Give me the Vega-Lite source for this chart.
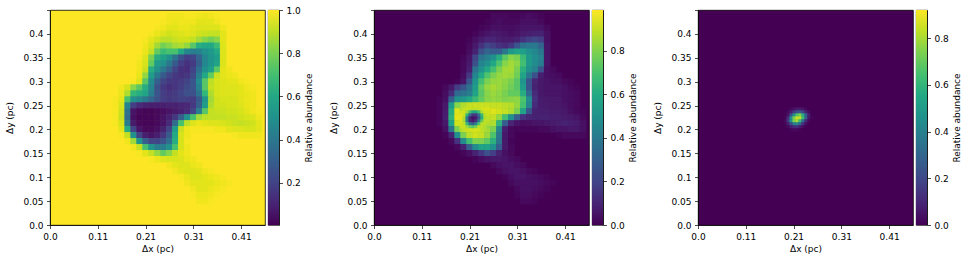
{"$schema":"https://vega.github.io/schema/vega-lite/v6.json","padding":{"left":5,"top":5,"right":0,"bottom":0},"background":"white","bounds":"flush","spacing":324,
"config":{"font":"DejaVu Sans","view":{"stroke":"black","strokeWidth":0.8},"axis":{"labelFont":"DejaVu Sans","titleFont":"DejaVu Sans","labelFontSize":9,"titleFontSize":9,"titleFontWeight":"normal","labelColor":"#000","titleColor":"#000","domainColor":"#000","tickColor":"#000","tickSize":3.5,"tickWidth":0.7,"domainWidth":0.7,"grid":false,"labelPadding":3.5}},
"datasets":{"coarse":[
{"x":0.25,"y":0.4375,"a":0.98,"b":0.02},{"x":0.2625,"y":0.4375,"a":0.98,"b":0.02},{"x":0.275,"y":0.4375,"a":0.98,"b":0.02},{"x":0.2875,"y":0.4375,"a":0.99,"b":0.01},{"x":0.3,"y":0.4375,"a":0.99,"b":0.01},{"x":0.3125,"y":0.4375,"a":0.98,"b":0.02},{"x":0.325,"y":0.4375,"a":0.97,"b":0.03},{"x":0.3375,"y":0.4375,"a":0.98,"b":0.02},{"x":0.35,"y":0.4375,"a":0.99,"b":0.01},
{"x":0.2375,"y":0.425,"a":0.99,"b":0.01},{"x":0.25,"y":0.425,"a":0.98,"b":0.02},{"x":0.2625,"y":0.425,"a":0.97,"b":0.03},{"x":0.275,"y":0.425,"a":0.98,"b":0.02},{"x":0.2875,"y":0.425,"a":0.98,"b":0.02},{"x":0.3,"y":0.425,"a":0.98,"b":0.02},{"x":0.3125,"y":0.425,"a":0.96,"b":0.04},{"x":0.325,"y":0.425,"a":0.96,"b":0.04},{"x":0.3375,"y":0.425,"a":0.96,"b":0.04},{"x":0.35,"y":0.425,"a":0.98,"b":0.02},
{"x":0.225,"y":0.4125,"a":0.99,"b":0.01},{"x":0.2375,"y":0.4125,"a":0.98,"b":0.02},{"x":0.25,"y":0.4125,"a":0.96,"b":0.04},{"x":0.2625,"y":0.4125,"a":0.96,"b":0.04},{"x":0.275,"y":0.4125,"a":0.97,"b":0.03},{"x":0.2875,"y":0.4125,"a":0.97,"b":0.03},{"x":0.3,"y":0.4125,"a":0.96,"b":0.04},{"x":0.3125,"y":0.4125,"a":0.95,"b":0.05},{"x":0.325,"y":0.4125,"a":0.95,"b":0.05},{"x":0.3375,"y":0.4125,"a":0.95,"b":0.05},{"x":0.35,"y":0.4125,"a":0.95,"b":0.05},{"x":0.3625,"y":0.4125,"a":0.98,"b":0.02},
{"x":0.2125,"y":0.4,"a":0.99,"b":0.01},{"x":0.225,"y":0.4,"a":0.97,"b":0.03},{"x":0.2375,"y":0.4,"a":0.95,"b":0.05},{"x":0.25,"y":0.4,"a":0.93,"b":0.07},{"x":0.2625,"y":0.4,"a":0.94,"b":0.06},{"x":0.275,"y":0.4,"a":0.95,"b":0.05},{"x":0.2875,"y":0.4,"a":0.96,"b":0.04},{"x":0.3,"y":0.4,"a":0.95,"b":0.05},{"x":0.3125,"y":0.4,"a":0.93,"b":0.07},{"x":0.325,"y":0.4,"a":0.92,"b":0.08},{"x":0.3375,"y":0.4,"a":0.91,"b":0.09},{"x":0.35,"y":0.4,"a":0.91,"b":0.09},{"x":0.3625,"y":0.4,"a":0.96,"b":0.04},
{"x":0.2,"y":0.3875,"a":0.99,"b":0.01},{"x":0.2125,"y":0.3875,"a":0.96,"b":0.04},{"x":0.225,"y":0.3875,"a":0.93,"b":0.07},{"x":0.2375,"y":0.3875,"a":0.9,"b":0.1},{"x":0.25,"y":0.3875,"a":0.9,"b":0.1},{"x":0.2625,"y":0.3875,"a":0.92,"b":0.08},{"x":0.275,"y":0.3875,"a":0.93,"b":0.07},{"x":0.2875,"y":0.3875,"a":0.93,"b":0.07},{"x":0.3,"y":0.3875,"a":0.91,"b":0.09},{"x":0.3125,"y":0.3875,"a":0.86,"b":0.14},{"x":0.325,"y":0.3875,"a":0.82,"b":0.18},{"x":0.3375,"y":0.3875,"a":0.79,"b":0.21},{"x":0.35,"y":0.3875,"a":0.82,"b":0.18},{"x":0.3625,"y":0.3875,"a":0.96,"b":0.04},
{"x":0.2,"y":0.375,"a":0.98,"b":0.02},{"x":0.2125,"y":0.375,"a":0.94,"b":0.06},{"x":0.225,"y":0.375,"a":0.86,"b":0.14},{"x":0.2375,"y":0.375,"a":0.79,"b":0.21},{"x":0.25,"y":0.375,"a":0.82,"b":0.18},{"x":0.2625,"y":0.375,"a":0.86,"b":0.14},{"x":0.275,"y":0.375,"a":0.88,"b":0.12},{"x":0.2875,"y":0.375,"a":0.84,"b":0.16},{"x":0.3,"y":0.375,"a":0.74,"b":0.26},{"x":0.3125,"y":0.375,"a":0.62,"b":0.38},{"x":0.325,"y":0.375,"a":0.6,"b":0.4},{"x":0.3375,"y":0.375,"a":0.6,"b":0.4},{"x":0.35,"y":0.375,"a":0.68,"b":0.32},{"x":0.3625,"y":0.375,"a":0.95,"b":0.05},
{"x":0.2,"y":0.3625,"a":0.97,"b":0.03},{"x":0.2125,"y":0.3625,"a":0.91,"b":0.09},{"x":0.225,"y":0.3625,"a":0.76,"b":0.24},{"x":0.2375,"y":0.3625,"a":0.68,"b":0.32},{"x":0.25,"y":0.3625,"a":0.71,"b":0.29},{"x":0.2625,"y":0.3625,"a":0.71,"b":0.29},{"x":0.275,"y":0.3625,"a":0.6,"b":0.4},{"x":0.2875,"y":0.3625,"a":0.46,"b":0.54},{"x":0.3,"y":0.3625,"a":0.42,"b":0.58},{"x":0.3125,"y":0.3625,"a":0.44,"b":0.56},{"x":0.325,"y":0.3625,"a":0.5,"b":0.5},{"x":0.3375,"y":0.3625,"a":0.54,"b":0.46},{"x":0.35,"y":0.3625,"a":0.6,"b":0.4},{"x":0.3625,"y":0.3625,"a":0.95,"b":0.05},
{"x":0.1875,"y":0.35,"a":0.99,"b":0.01},{"x":0.2,"y":0.35,"a":0.95,"b":0.05},{"x":0.2125,"y":0.35,"a":0.8,"b":0.2},{"x":0.225,"y":0.35,"a":0.62,"b":0.38},{"x":0.2375,"y":0.35,"a":0.57,"b":0.43},{"x":0.25,"y":0.35,"a":0.5,"b":0.5},{"x":0.2625,"y":0.35,"a":0.38,"b":0.62},{"x":0.275,"y":0.35,"a":0.25,"b":0.75},{"x":0.2875,"y":0.35,"a":0.18,"b":0.82},{"x":0.3,"y":0.35,"a":0.2,"b":0.8},{"x":0.3125,"y":0.35,"a":0.32,"b":0.68},{"x":0.325,"y":0.35,"a":0.46,"b":0.54},{"x":0.3375,"y":0.35,"a":0.52,"b":0.48},{"x":0.35,"y":0.35,"a":0.56,"b":0.44},{"x":0.3625,"y":0.35,"a":0.95,"b":0.05},
{"x":0.1875,"y":0.3375,"a":0.98,"b":0.02},{"x":0.2,"y":0.3375,"a":0.94,"b":0.06},{"x":0.2125,"y":0.3375,"a":0.76,"b":0.24},{"x":0.225,"y":0.3375,"a":0.55,"b":0.45},{"x":0.2375,"y":0.3375,"a":0.5,"b":0.5},{"x":0.25,"y":0.3375,"a":0.4,"b":0.6},{"x":0.2625,"y":0.3375,"a":0.28,"b":0.72},{"x":0.275,"y":0.3375,"a":0.18,"b":0.82},{"x":0.2875,"y":0.3375,"a":0.14,"b":0.86},{"x":0.3,"y":0.3375,"a":0.17,"b":0.83},{"x":0.3125,"y":0.3375,"a":0.3,"b":0.7},{"x":0.325,"y":0.3375,"a":0.46,"b":0.54},{"x":0.3375,"y":0.3375,"a":0.52,"b":0.48},{"x":0.35,"y":0.3375,"a":0.58,"b":0.42},{"x":0.3625,"y":0.3375,"a":0.95,"b":0.05},
{"x":0.1875,"y":0.325,"a":0.98,"b":0.02},{"x":0.2,"y":0.325,"a":0.92,"b":0.08},{"x":0.2125,"y":0.325,"a":0.62,"b":0.38},{"x":0.225,"y":0.325,"a":0.5,"b":0.5},{"x":0.2375,"y":0.325,"a":0.4,"b":0.6},{"x":0.25,"y":0.325,"a":0.3,"b":0.7},{"x":0.2625,"y":0.325,"a":0.2,"b":0.8},{"x":0.275,"y":0.325,"a":0.14,"b":0.86},{"x":0.2875,"y":0.325,"a":0.13,"b":0.87},{"x":0.3,"y":0.325,"a":0.2,"b":0.8},{"x":0.3125,"y":0.325,"a":0.36,"b":0.64},{"x":0.325,"y":0.325,"a":0.5,"b":0.5},{"x":0.3375,"y":0.325,"a":0.56,"b":0.44},{"x":0.35,"y":0.325,"a":0.74,"b":0.26},{"x":0.3625,"y":0.325,"a":0.96,"b":0.04},{"x":0.375,"y":0.325,"a":0.98,"b":0.02},
{"x":0.1875,"y":0.3125,"a":0.97,"b":0.03},{"x":0.2,"y":0.3125,"a":0.84,"b":0.16},{"x":0.2125,"y":0.3125,"a":0.55,"b":0.45},{"x":0.225,"y":0.3125,"a":0.4,"b":0.6},{"x":0.2375,"y":0.3125,"a":0.28,"b":0.72},{"x":0.25,"y":0.3125,"a":0.2,"b":0.8},{"x":0.2625,"y":0.3125,"a":0.16,"b":0.84},{"x":0.275,"y":0.3125,"a":0.14,"b":0.86},{"x":0.2875,"y":0.3125,"a":0.15,"b":0.85},{"x":0.3,"y":0.3125,"a":0.22,"b":0.78},{"x":0.3125,"y":0.3125,"a":0.42,"b":0.58},{"x":0.325,"y":0.3125,"a":0.6,"b":0.4},{"x":0.3375,"y":0.3125,"a":0.76,"b":0.24},{"x":0.35,"y":0.3125,"a":0.92,"b":0.08},{"x":0.3625,"y":0.3125,"a":0.96,"b":0.04},{"x":0.375,"y":0.3125,"a":0.97,"b":0.03},{"x":0.3875,"y":0.3125,"a":0.98,"b":0.02},
{"x":0.175,"y":0.3,"a":0.99,"b":0.01},{"x":0.1875,"y":0.3,"a":0.95,"b":0.05},{"x":0.2,"y":0.3,"a":0.74,"b":0.26},{"x":0.2125,"y":0.3,"a":0.48,"b":0.52},{"x":0.225,"y":0.3,"a":0.3,"b":0.7},{"x":0.2375,"y":0.3,"a":0.2,"b":0.8},{"x":0.25,"y":0.3,"a":0.16,"b":0.84},{"x":0.2625,"y":0.3,"a":0.15,"b":0.85},{"x":0.275,"y":0.3,"a":0.17,"b":0.83},{"x":0.2875,"y":0.3,"a":0.2,"b":0.8},{"x":0.3,"y":0.3,"a":0.26,"b":0.74},{"x":0.3125,"y":0.3,"a":0.48,"b":0.52},{"x":0.325,"y":0.3,"a":0.74,"b":0.26},{"x":0.3375,"y":0.3,"a":0.9,"b":0.1},{"x":0.35,"y":0.3,"a":0.94,"b":0.06},{"x":0.3625,"y":0.3,"a":0.95,"b":0.05},{"x":0.375,"y":0.3,"a":0.96,"b":0.04},{"x":0.3875,"y":0.3,"a":0.96,"b":0.04},{"x":0.4,"y":0.3,"a":0.98,"b":0.02},{"x":0.4125,"y":0.3,"a":0.99,"b":0.01},
{"x":0.15,"y":0.2875,"a":0.98,"b":0.02},{"x":0.1625,"y":0.2875,"a":0.94,"b":0.06},{"x":0.175,"y":0.2875,"a":0.82,"b":0.18},{"x":0.1875,"y":0.2875,"a":0.74,"b":0.26},{"x":0.2,"y":0.2875,"a":0.62,"b":0.38},{"x":0.2125,"y":0.2875,"a":0.45,"b":0.55},{"x":0.225,"y":0.2875,"a":0.24,"b":0.76},{"x":0.2375,"y":0.2875,"a":0.16,"b":0.84},{"x":0.25,"y":0.2875,"a":0.13,"b":0.87},{"x":0.2625,"y":0.2875,"a":0.15,"b":0.85},{"x":0.275,"y":0.2875,"a":0.18,"b":0.82},{"x":0.2875,"y":0.2875,"a":0.22,"b":0.78},{"x":0.3,"y":0.2875,"a":0.26,"b":0.74},{"x":0.3125,"y":0.2875,"a":0.44,"b":0.56},{"x":0.325,"y":0.2875,"a":0.74,"b":0.26},{"x":0.3375,"y":0.2875,"a":0.91,"b":0.09},{"x":0.35,"y":0.2875,"a":0.94,"b":0.06},{"x":0.3625,"y":0.2875,"a":0.95,"b":0.05},{"x":0.375,"y":0.2875,"a":0.95,"b":0.05},{"x":0.3875,"y":0.2875,"a":0.95,"b":0.05},{"x":0.4,"y":0.2875,"a":0.96,"b":0.04},{"x":0.4125,"y":0.2875,"a":0.98,"b":0.02},{"x":0.425,"y":0.2875,"a":0.99,"b":0.01},
{"x":0.15,"y":0.275,"a":0.97,"b":0.03},{"x":0.1625,"y":0.275,"a":0.88,"b":0.12},{"x":0.175,"y":0.275,"a":0.66,"b":0.34},{"x":0.1875,"y":0.275,"a":0.62,"b":0.38},{"x":0.2,"y":0.275,"a":0.58,"b":0.42},{"x":0.2125,"y":0.275,"a":0.42,"b":0.58},{"x":0.225,"y":0.275,"a":0.26,"b":0.74},{"x":0.2375,"y":0.275,"a":0.18,"b":0.82},{"x":0.25,"y":0.275,"a":0.15,"b":0.85},{"x":0.2625,"y":0.275,"a":0.17,"b":0.83},{"x":0.275,"y":0.275,"a":0.2,"b":0.8},{"x":0.2875,"y":0.275,"a":0.24,"b":0.76},{"x":0.3,"y":0.275,"a":0.24,"b":0.76},{"x":0.3125,"y":0.275,"a":0.38,"b":0.62},{"x":0.325,"y":0.275,"a":0.66,"b":0.34},{"x":0.3375,"y":0.275,"a":0.88,"b":0.12},{"x":0.35,"y":0.275,"a":0.94,"b":0.06},{"x":0.3625,"y":0.275,"a":0.95,"b":0.05},{"x":0.375,"y":0.275,"a":0.95,"b":0.05},{"x":0.3875,"y":0.275,"a":0.95,"b":0.05},{"x":0.4,"y":0.275,"a":0.96,"b":0.04},{"x":0.4125,"y":0.275,"a":0.97,"b":0.03},{"x":0.425,"y":0.275,"a":0.98,"b":0.02},
{"x":0.1375,"y":0.2625,"a":0.99,"b":0.01},{"x":0.15,"y":0.2625,"a":0.96,"b":0.04},{"x":0.1625,"y":0.2625,"a":0.71,"b":0.29},{"x":0.175,"y":0.2625,"a":0.5,"b":0.5},{"x":0.1875,"y":0.2625,"a":0.46,"b":0.54},{"x":0.2,"y":0.2625,"a":0.4,"b":0.6},{"x":0.2125,"y":0.2625,"a":0.32,"b":0.68},{"x":0.225,"y":0.2625,"a":0.24,"b":0.76},{"x":0.2375,"y":0.2625,"a":0.18,"b":0.82},{"x":0.25,"y":0.2625,"a":0.16,"b":0.84},{"x":0.2625,"y":0.2625,"a":0.17,"b":0.83},{"x":0.275,"y":0.2625,"a":0.19,"b":0.81},{"x":0.2875,"y":0.2625,"a":0.18,"b":0.82},{"x":0.3,"y":0.2625,"a":0.17,"b":0.83},{"x":0.3125,"y":0.2625,"a":0.28,"b":0.72},{"x":0.325,"y":0.2625,"a":0.52,"b":0.48},{"x":0.3375,"y":0.2625,"a":0.86,"b":0.14},{"x":0.35,"y":0.2625,"a":0.93,"b":0.07},{"x":0.3625,"y":0.2625,"a":0.94,"b":0.06},{"x":0.375,"y":0.2625,"a":0.94,"b":0.06},{"x":0.3875,"y":0.2625,"a":0.94,"b":0.06},{"x":0.4,"y":0.2625,"a":0.96,"b":0.04},{"x":0.4125,"y":0.2625,"a":0.97,"b":0.03},{"x":0.425,"y":0.2625,"a":0.98,"b":0.02},
{"x":0.1375,"y":0.25,"a":0.99,"b":0.01},{"x":0.15,"y":0.25,"a":0.94,"b":0.06},{"x":0.1625,"y":0.25,"a":0.45,"b":0.55},{"x":0.175,"y":0.25,"a":0.18,"b":0.82},{"x":0.1875,"y":0.25,"a":0.12,"b":0.88},{"x":0.2,"y":0.25,"a":0.09,"b":0.91},{"x":0.2125,"y":0.25,"a":0.08,"b":0.92},{"x":0.225,"y":0.25,"a":0.08,"b":0.92},{"x":0.2375,"y":0.25,"a":0.08,"b":0.92},{"x":0.25,"y":0.25,"a":0.09,"b":0.91},{"x":0.2625,"y":0.25,"a":0.09,"b":0.91},{"x":0.275,"y":0.25,"a":0.1,"b":0.9},{"x":0.2875,"y":0.25,"a":0.11,"b":0.89},{"x":0.3,"y":0.25,"a":0.16,"b":0.84},{"x":0.3125,"y":0.25,"a":0.3,"b":0.7},{"x":0.325,"y":0.25,"a":0.55,"b":0.45},{"x":0.3375,"y":0.25,"a":0.88,"b":0.12},{"x":0.35,"y":0.25,"a":0.93,"b":0.07},{"x":0.3625,"y":0.25,"a":0.93,"b":0.07},{"x":0.375,"y":0.25,"a":0.94,"b":0.06},{"x":0.3875,"y":0.25,"a":0.94,"b":0.06},{"x":0.4,"y":0.25,"a":0.95,"b":0.05},{"x":0.4125,"y":0.25,"a":0.97,"b":0.03},{"x":0.425,"y":0.25,"a":0.98,"b":0.02},
{"x":0.1375,"y":0.2375,"a":0.99,"b":0.01},{"x":0.15,"y":0.2375,"a":0.93,"b":0.07},{"x":0.1625,"y":0.2375,"a":0.38,"b":0.62},{"x":0.175,"y":0.2375,"a":0.05,"b":0.95},{"x":0.1875,"y":0.2375,"a":0.02,"b":0.9},{"x":0.2,"y":0.2375,"a":0.01,"b":0.9},{"x":0.2125,"y":0.2375,"a":0.01,"b":0.9},{"x":0.225,"y":0.2375,"a":0.02,"b":0.9},{"x":0.2375,"y":0.2375,"a":0.03,"b":0.92},{"x":0.25,"y":0.2375,"a":0.05,"b":0.95},{"x":0.2625,"y":0.2375,"a":0.07,"b":0.93},{"x":0.275,"y":0.2375,"a":0.09,"b":0.91},{"x":0.2875,"y":0.2375,"a":0.12,"b":0.88},{"x":0.3,"y":0.2375,"a":0.2,"b":0.8},{"x":0.3125,"y":0.2375,"a":0.42,"b":0.58},{"x":0.325,"y":0.2375,"a":0.74,"b":0.26},{"x":0.3375,"y":0.2375,"a":0.91,"b":0.09},{"x":0.35,"y":0.2375,"a":0.92,"b":0.08},{"x":0.3625,"y":0.2375,"a":0.92,"b":0.08},{"x":0.375,"y":0.2375,"a":0.93,"b":0.07},{"x":0.3875,"y":0.2375,"a":0.93,"b":0.07},{"x":0.4,"y":0.2375,"a":0.94,"b":0.06},{"x":0.4125,"y":0.2375,"a":0.96,"b":0.04},{"x":0.425,"y":0.2375,"a":0.98,"b":0.02},{"x":0.4375,"y":0.2375,"a":0.99,"b":0.01},
{"x":0.1375,"y":0.225,"a":0.99,"b":0.01},{"x":0.15,"y":0.225,"a":0.92,"b":0.08},{"x":0.1625,"y":0.225,"a":0.35,"b":0.65},{"x":0.175,"y":0.225,"a":0.04,"b":0.96},{"x":0.1875,"y":0.225,"a":0.01,"b":0.9},{"x":0.2,"y":0.225,"a":0.01,"b":0.5},{"x":0.2125,"y":0.225,"a":0.01,"b":0.2},{"x":0.225,"y":0.225,"a":0.02,"b":0.7},{"x":0.2375,"y":0.225,"a":0.05,"b":0.9},{"x":0.25,"y":0.225,"a":0.09,"b":0.91},{"x":0.2625,"y":0.225,"a":0.16,"b":0.84},{"x":0.275,"y":0.225,"a":0.3,"b":0.7},{"x":0.2875,"y":0.225,"a":0.5,"b":0.5},{"x":0.3,"y":0.225,"a":0.71,"b":0.29},{"x":0.3125,"y":0.225,"a":0.86,"b":0.14},{"x":0.325,"y":0.225,"a":0.9,"b":0.1},{"x":0.3375,"y":0.225,"a":0.91,"b":0.09},{"x":0.35,"y":0.225,"a":0.91,"b":0.09},{"x":0.3625,"y":0.225,"a":0.91,"b":0.09},{"x":0.375,"y":0.225,"a":0.92,"b":0.08},{"x":0.3875,"y":0.225,"a":0.92,"b":0.08},{"x":0.4,"y":0.225,"a":0.93,"b":0.07},{"x":0.4125,"y":0.225,"a":0.94,"b":0.06},{"x":0.425,"y":0.225,"a":0.95,"b":0.05},{"x":0.4375,"y":0.225,"a":0.98,"b":0.02},
{"x":0.1375,"y":0.2125,"a":0.99,"b":0.01},{"x":0.15,"y":0.2125,"a":0.94,"b":0.06},{"x":0.1625,"y":0.2125,"a":0.42,"b":0.58},{"x":0.175,"y":0.2125,"a":0.07,"b":0.93},{"x":0.1875,"y":0.2125,"a":0.02,"b":0.9},{"x":0.2,"y":0.2125,"a":0.01,"b":0.6},{"x":0.2125,"y":0.2125,"a":0.01,"b":0.6},{"x":0.225,"y":0.2125,"a":0.02,"b":0.9},{"x":0.2375,"y":0.2125,"a":0.05,"b":0.9},{"x":0.25,"y":0.2125,"a":0.12,"b":0.88},{"x":0.2625,"y":0.2125,"a":0.35,"b":0.65},{"x":0.275,"y":0.2125,"a":0.71,"b":0.29},{"x":0.2875,"y":0.2125,"a":0.9,"b":0.1},{"x":0.3,"y":0.2125,"a":0.95,"b":0.05},{"x":0.3125,"y":0.2125,"a":0.97,"b":0.03},{"x":0.325,"y":0.2125,"a":0.96,"b":0.04},{"x":0.3375,"y":0.2125,"a":0.95,"b":0.05},{"x":0.35,"y":0.2125,"a":0.95,"b":0.05},{"x":0.3625,"y":0.2125,"a":0.94,"b":0.06},{"x":0.375,"y":0.2125,"a":0.93,"b":0.07},{"x":0.3875,"y":0.2125,"a":0.92,"b":0.08},{"x":0.4,"y":0.2125,"a":0.91,"b":0.09},{"x":0.4125,"y":0.2125,"a":0.92,"b":0.08},{"x":0.425,"y":0.2125,"a":0.93,"b":0.07},{"x":0.4375,"y":0.2125,"a":0.96,"b":0.04},
{"x":0.15,"y":0.2,"a":0.96,"b":0.04},{"x":0.1625,"y":0.2,"a":0.62,"b":0.38},{"x":0.175,"y":0.2,"a":0.2,"b":0.8},{"x":0.1875,"y":0.2,"a":0.05,"b":0.9},{"x":0.2,"y":0.2,"a":0.02,"b":0.9},{"x":0.2125,"y":0.2,"a":0.02,"b":0.9},{"x":0.225,"y":0.2,"a":0.04,"b":0.9},{"x":0.2375,"y":0.2,"a":0.09,"b":0.88},{"x":0.25,"y":0.2,"a":0.2,"b":0.8},{"x":0.2625,"y":0.2,"a":0.55,"b":0.45},{"x":0.275,"y":0.2,"a":0.92,"b":0.08},{"x":0.2875,"y":0.2,"a":0.98,"b":0.02},{"x":0.3,"y":0.2,"a":0.99,"b":0.01},{"x":0.3125,"y":0.2,"a":0.99,"b":0.01},{"x":0.325,"y":0.2,"a":0.99,"b":0.01},{"x":0.3375,"y":0.2,"a":0.99,"b":0.01},{"x":0.35,"y":0.2,"a":0.98,"b":0.02},{"x":0.3625,"y":0.2,"a":0.98,"b":0.02},{"x":0.375,"y":0.2,"a":0.96,"b":0.04},{"x":0.3875,"y":0.2,"a":0.95,"b":0.05},{"x":0.4,"y":0.2,"a":0.95,"b":0.05},{"x":0.4125,"y":0.2,"a":0.94,"b":0.06},{"x":0.425,"y":0.2,"a":0.94,"b":0.06},{"x":0.4375,"y":0.2,"a":0.96,"b":0.04},
{"x":0.15,"y":0.1875,"a":0.99,"b":0.01},{"x":0.1625,"y":0.1875,"a":0.91,"b":0.09},{"x":0.175,"y":0.1875,"a":0.5,"b":0.5},{"x":0.1875,"y":0.1875,"a":0.2,"b":0.8},{"x":0.2,"y":0.1875,"a":0.08,"b":0.9},{"x":0.2125,"y":0.1875,"a":0.05,"b":0.93},{"x":0.225,"y":0.1875,"a":0.08,"b":0.91},{"x":0.2375,"y":0.1875,"a":0.15,"b":0.85},{"x":0.25,"y":0.1875,"a":0.28,"b":0.72},{"x":0.2625,"y":0.1875,"a":0.6,"b":0.4},{"x":0.275,"y":0.1875,"a":0.94,"b":0.06},{"x":0.2875,"y":0.1875,"a":0.98,"b":0.02},{"x":0.3875,"y":0.1875,"a":0.99,"b":0.01},{"x":0.4,"y":0.1875,"a":0.98,"b":0.02},{"x":0.4125,"y":0.1875,"a":0.98,"b":0.02},{"x":0.425,"y":0.1875,"a":0.98,"b":0.02},{"x":0.4375,"y":0.1875,"a":0.98,"b":0.02},
{"x":0.1625,"y":0.175,"a":0.98,"b":0.02},{"x":0.175,"y":0.175,"a":0.86,"b":0.14},{"x":0.1875,"y":0.175,"a":0.52,"b":0.48},{"x":0.2,"y":0.175,"a":0.3,"b":0.7},{"x":0.2125,"y":0.175,"a":0.2,"b":0.8},{"x":0.225,"y":0.175,"a":0.2,"b":0.8},{"x":0.2375,"y":0.175,"a":0.25,"b":0.75},{"x":0.25,"y":0.175,"a":0.36,"b":0.64},{"x":0.2625,"y":0.175,"a":0.62,"b":0.38},{"x":0.275,"y":0.175,"a":0.94,"b":0.06},{"x":0.2875,"y":0.175,"a":0.99,"b":0.01},
{"x":0.175,"y":0.1625,"a":0.98,"b":0.02},{"x":0.1875,"y":0.1625,"a":0.91,"b":0.09},{"x":0.2,"y":0.1625,"a":0.71,"b":0.29},{"x":0.2125,"y":0.1625,"a":0.52,"b":0.48},{"x":0.225,"y":0.1625,"a":0.42,"b":0.58},{"x":0.2375,"y":0.1625,"a":0.42,"b":0.58},{"x":0.25,"y":0.1625,"a":0.5,"b":0.5},{"x":0.2625,"y":0.1625,"a":0.71,"b":0.29},{"x":0.275,"y":0.1625,"a":0.94,"b":0.06},{"x":0.2875,"y":0.1625,"a":0.98,"b":0.02},
{"x":0.1875,"y":0.15,"a":0.99,"b":0.01},{"x":0.2,"y":0.15,"a":0.96,"b":0.04},{"x":0.2125,"y":0.15,"a":0.91,"b":0.09},{"x":0.225,"y":0.15,"a":0.84,"b":0.16},{"x":0.2375,"y":0.15,"a":0.76,"b":0.24},{"x":0.25,"y":0.15,"a":0.82,"b":0.18},{"x":0.2625,"y":0.15,"a":0.91,"b":0.09},{"x":0.275,"y":0.15,"a":0.96,"b":0.04},{"x":0.2875,"y":0.15,"a":0.98,"b":0.02},
{"x":0.2125,"y":0.1375,"a":0.99,"b":0.01},{"x":0.225,"y":0.1375,"a":0.97,"b":0.03},{"x":0.2375,"y":0.1375,"a":0.95,"b":0.05},{"x":0.25,"y":0.1375,"a":0.94,"b":0.06},{"x":0.2625,"y":0.1375,"a":0.94,"b":0.06},{"x":0.275,"y":0.1375,"a":0.95,"b":0.05},{"x":0.2875,"y":0.1375,"a":0.97,"b":0.03},{"x":0.3,"y":0.1375,"a":0.98,"b":0.02},
{"x":0.25,"y":0.125,"a":0.98,"b":0.02},{"x":0.2625,"y":0.125,"a":0.96,"b":0.04},{"x":0.275,"y":0.125,"a":0.95,"b":0.05},{"x":0.2875,"y":0.125,"a":0.95,"b":0.05},{"x":0.3,"y":0.125,"a":0.97,"b":0.03},{"x":0.3125,"y":0.125,"a":0.98,"b":0.02},
{"x":0.2625,"y":0.1125,"a":0.98,"b":0.02},{"x":0.275,"y":0.1125,"a":0.96,"b":0.04},{"x":0.2875,"y":0.1125,"a":0.95,"b":0.05},{"x":0.3,"y":0.1125,"a":0.95,"b":0.05},{"x":0.3125,"y":0.1125,"a":0.96,"b":0.04},{"x":0.325,"y":0.1125,"a":0.98,"b":0.02},{"x":0.3375,"y":0.1125,"a":0.99,"b":0.01},
{"x":0.275,"y":0.1,"a":0.99,"b":0.01},{"x":0.2875,"y":0.1,"a":0.97,"b":0.03},{"x":0.3,"y":0.1,"a":0.95,"b":0.05},{"x":0.3125,"y":0.1,"a":0.95,"b":0.05},{"x":0.325,"y":0.1,"a":0.96,"b":0.04},{"x":0.3375,"y":0.1,"a":0.97,"b":0.03},{"x":0.35,"y":0.1,"a":0.98,"b":0.02},{"x":0.3625,"y":0.1,"a":0.99,"b":0.01},
{"x":0.2875,"y":0.0875,"a":0.98,"b":0.02},{"x":0.3,"y":0.0875,"a":0.96,"b":0.04},{"x":0.3125,"y":0.0875,"a":0.96,"b":0.04},{"x":0.325,"y":0.0875,"a":0.96,"b":0.04},{"x":0.3375,"y":0.0875,"a":0.96,"b":0.04},{"x":0.35,"y":0.0875,"a":0.97,"b":0.03},{"x":0.3625,"y":0.0875,"a":0.98,"b":0.02},{"x":0.375,"y":0.0875,"a":0.99,"b":0.01},
{"x":0.3,"y":0.075,"a":0.98,"b":0.02},{"x":0.3125,"y":0.075,"a":0.96,"b":0.04},{"x":0.325,"y":0.075,"a":0.96,"b":0.04},{"x":0.3375,"y":0.075,"a":0.97,"b":0.03},{"x":0.35,"y":0.075,"a":0.98,"b":0.02},{"x":0.3625,"y":0.075,"a":0.99,"b":0.01},
{"x":0.3,"y":0.0625,"a":0.99,"b":0.01},{"x":0.3125,"y":0.0625,"a":0.97,"b":0.03},{"x":0.325,"y":0.0625,"a":0.97,"b":0.03},{"x":0.3375,"y":0.0625,"a":0.98,"b":0.02},{"x":0.35,"y":0.0625,"a":0.99,"b":0.01},
{"x":0.3125,"y":0.05,"a":0.98,"b":0.02},{"x":0.325,"y":0.05,"a":0.98,"b":0.02},{"x":0.3375,"y":0.05,"a":0.99,"b":0.01}
],"fine":[
{"x":0.1825,"y":0.2425,"b":0.88,"c":0},{"x":0.1888,"y":0.2425,"b":0.91,"c":0},{"x":0.195,"y":0.2425,"b":0.92,"c":0.02},{"x":0.2013,"y":0.2425,"b":0.91,"c":0.04},{"x":0.2075,"y":0.2425,"b":0.9,"c":0.06},{"x":0.2138,"y":0.2425,"b":0.9,"c":0.07},{"x":0.22,"y":0.2425,"b":0.91,"c":0.05},{"x":0.2263,"y":0.2425,"b":0.93,"c":0.02},{"x":0.2325,"y":0.2425,"b":0.94,"c":0},{"x":0.2388,"y":0.2425,"b":0.94,"c":0},
{"x":0.1825,"y":0.2363,"b":0.92,"c":0},{"x":0.1888,"y":0.2363,"b":0.93,"c":0.02},{"x":0.195,"y":0.2363,"b":0.86,"c":0.07},{"x":0.2013,"y":0.2363,"b":0.7,"c":0.16},{"x":0.2075,"y":0.2363,"b":0.58,"c":0.24},{"x":0.2138,"y":0.2363,"b":0.58,"c":0.28},{"x":0.22,"y":0.2363,"b":0.7,"c":0.2},{"x":0.2263,"y":0.2363,"b":0.88,"c":0.09},{"x":0.2325,"y":0.2363,"b":0.93,"c":0.03},{"x":0.2388,"y":0.2363,"b":0.93,"c":0},
{"x":0.1825,"y":0.23,"b":0.95,"c":0},{"x":0.1888,"y":0.23,"b":0.92,"c":0.04},{"x":0.195,"y":0.23,"b":0.66,"c":0.24},{"x":0.2013,"y":0.23,"b":0.32,"c":0.5},{"x":0.2075,"y":0.23,"b":0.16,"c":0.72},{"x":0.2138,"y":0.23,"b":0.16,"c":0.8},{"x":0.22,"y":0.23,"b":0.36,"c":0.62},{"x":0.2263,"y":0.23,"b":0.68,"c":0.3},{"x":0.2325,"y":0.23,"b":0.9,"c":0.08},{"x":0.2388,"y":0.23,"b":0.92,"c":0},
{"x":0.1825,"y":0.2238,"b":0.96,"c":0.01},{"x":0.1888,"y":0.2238,"b":0.88,"c":0.12},{"x":0.195,"y":0.2238,"b":0.42,"c":0.48},{"x":0.2013,"y":0.2238,"b":0.1,"c":0.8},{"x":0.2075,"y":0.2238,"b":0.04,"c":0.92},{"x":0.2138,"y":0.2238,"b":0.08,"c":0.9},{"x":0.22,"y":0.2238,"b":0.26,"c":0.68},{"x":0.2263,"y":0.2238,"b":0.62,"c":0.3},{"x":0.2325,"y":0.2238,"b":0.88,"c":0.06},{"x":0.2388,"y":0.2238,"b":0.9,"c":0.01},
{"x":0.1825,"y":0.2175,"b":0.95,"c":0.02},{"x":0.1888,"y":0.2175,"b":0.86,"c":0.16},{"x":0.195,"y":0.2175,"b":0.42,"c":0.5},{"x":0.2013,"y":0.2175,"b":0.12,"c":0.8},{"x":0.2075,"y":0.2175,"b":0.06,"c":0.86},{"x":0.2138,"y":0.2175,"b":0.14,"c":0.68},{"x":0.22,"y":0.2175,"b":0.42,"c":0.36},{"x":0.2263,"y":0.2175,"b":0.76,"c":0.12},{"x":0.2325,"y":0.2175,"b":0.9,"c":0.02},{"x":0.2388,"y":0.2175,"b":0.9,"c":0},
{"x":0.1825,"y":0.2113,"b":0.93,"c":0.01},{"x":0.1888,"y":0.2113,"b":0.9,"c":0.07},{"x":0.195,"y":0.2113,"b":0.68,"c":0.22},{"x":0.2013,"y":0.2113,"b":0.4,"c":0.42},{"x":0.2075,"y":0.2113,"b":0.3,"c":0.46},{"x":0.2138,"y":0.2113,"b":0.44,"c":0.32},{"x":0.22,"y":0.2113,"b":0.72,"c":0.14},{"x":0.2263,"y":0.2113,"b":0.9,"c":0.04},{"x":0.2325,"y":0.2113,"b":0.9,"c":0},{"x":0.2388,"y":0.2113,"b":0.88,"c":0},
{"x":0.1825,"y":0.205,"b":0.92,"c":0},{"x":0.1888,"y":0.205,"b":0.92,"c":0.02},{"x":0.195,"y":0.205,"b":0.86,"c":0.07},{"x":0.2013,"y":0.205,"b":0.78,"c":0.12},{"x":0.2075,"y":0.205,"b":0.74,"c":0.13},{"x":0.2138,"y":0.205,"b":0.8,"c":0.08},{"x":0.22,"y":0.205,"b":0.9,"c":0.03},{"x":0.2263,"y":0.205,"b":0.9,"c":0},{"x":0.2325,"y":0.205,"b":0.88,"c":0},{"x":0.2388,"y":0.205,"b":0.84,"c":0},
{"x":0.1825,"y":0.1988,"b":0.88,"c":0},{"x":0.1888,"y":0.1988,"b":0.91,"c":0},{"x":0.195,"y":0.1988,"b":0.92,"c":0.01},{"x":0.2013,"y":0.1988,"b":0.93,"c":0.02},{"x":0.2075,"y":0.1988,"b":0.93,"c":0.02},{"x":0.2138,"y":0.1988,"b":0.94,"c":0.01},{"x":0.22,"y":0.1988,"b":0.93,"c":0},{"x":0.2263,"y":0.1988,"b":0.9,"c":0},{"x":0.2325,"y":0.1988,"b":0.88,"c":0},{"x":0.2388,"y":0.1988,"b":0.86,"c":0}
]},
"hconcat":[
{"hconcat":[
{"width":215,"height":215,"view":{"fill":"#fde725"},"data":{"name":"coarse"},"mark":{"type":"rect","width":6.6,"height":6.6,"clip":true},
"encoding":{"x":{"field":"x","type":"quantitative","title":"Δx (pc)","scale":{"domain":[0,0.45],"nice":false},"axis":{"values":[0,0.1,0.2,0.3,0.4],"labelExpr":"datum.value==0?'0.0':format(datum.value+0.01,'.2f')","labelFlush":false,"titlePadding":3}},
"y":{"field":"y","type":"quantitative","title":"Δy (pc)","scale":{"domain":[0,0.45],"nice":false},"axis":{"values":[0,0.05,0.1,0.15,0.2,0.25,0.3,0.35,0.4,0.45],"labelExpr":"datum.value>0.44?'':(datum.value==0?'0.0':format(datum.value,'.2~f'))","labelOverlap":false,"titlePadding":8}},
"color":{"field":"a","type":"quantitative","scale":{"scheme":"viridis","domain":[0.004,1]},"legend":null}}},
{"width":11,"height":215,"data":{"values":[{"lo":0.004,"hi":1}]},"mark":{"type":"rect","color":{"x1":0,"y1":1,"x2":0,"y2":0,"gradient":"linear","stops":[{"offset":0,"color":"#440154"},{"offset":0.1,"color":"#482475"},{"offset":0.2,"color":"#414487"},{"offset":0.3,"color":"#355f8d"},{"offset":0.4,"color":"#2a788e"},{"offset":0.5,"color":"#21918c"},{"offset":0.6,"color":"#22a884"},{"offset":0.7,"color":"#44bf70"},{"offset":0.8,"color":"#7ad151"},{"offset":0.9,"color":"#bddf26"},{"offset":1,"color":"#fde725"}]}},
"encoding":{"y":{"field":"lo","type":"quantitative","title":"Relative abundance","scale":{"domain":[0.004,1],"nice":false},"axis":{"orient":"right","values":[0.2,0.4,0.6,0.8,1],"format":".1f","titleAngle":270,"titlePadding":13}},"y2":{"field":"hi"}}}
],"spacing":3,"bounds":"flush"},
{"hconcat":[
{"width":215,"height":215,"view":{"fill":"#440154"},
"encoding":{"x":{"field":"x","type":"quantitative","title":"Δx (pc)","scale":{"domain":[0,0.45],"nice":false},"axis":{"values":[0,0.1,0.2,0.3,0.4],"labelExpr":"datum.value==0?'0.0':format(datum.value+0.01,'.2f')","labelFlush":false,"titlePadding":3}},
"y":{"field":"y","type":"quantitative","title":"Δy (pc)","scale":{"domain":[0,0.45],"nice":false},"axis":{"values":[0,0.05,0.1,0.15,0.2,0.25,0.3,0.35,0.4,0.45],"labelExpr":"datum.value>0.44?'':(datum.value==0?'0.0':format(datum.value,'.2~f'))","labelOverlap":false,"titlePadding":8}},
"color":{"field":"b","type":"quantitative","scale":{"scheme":"viridis","domain":[0,0.987]},"legend":null}},
"layer":[
{"data":{"name":"coarse"},"mark":{"type":"rect","width":6.6,"height":6.6,"clip":true}},
{"data":{"name":"fine"},"mark":{"type":"rect","width":3.5,"height":3.5}}
]},
{"width":11,"height":215,"data":{"values":[{"lo":0,"hi":0.987}]},"mark":{"type":"rect","color":{"x1":0,"y1":1,"x2":0,"y2":0,"gradient":"linear","stops":[{"offset":0,"color":"#440154"},{"offset":0.1,"color":"#482475"},{"offset":0.2,"color":"#414487"},{"offset":0.3,"color":"#355f8d"},{"offset":0.4,"color":"#2a788e"},{"offset":0.5,"color":"#21918c"},{"offset":0.6,"color":"#22a884"},{"offset":0.7,"color":"#44bf70"},{"offset":0.8,"color":"#7ad151"},{"offset":0.9,"color":"#bddf26"},{"offset":1,"color":"#fde725"}]}},
"encoding":{"y":{"field":"lo","type":"quantitative","title":"Relative abundance","scale":{"domain":[0,0.987],"nice":false},"axis":{"orient":"right","values":[0,0.2,0.4,0.6,0.8],"format":".1f","titleAngle":270,"titlePadding":13}},"y2":{"field":"hi"}}}
],"spacing":3,"bounds":"flush"},
{"hconcat":[
{"width":215,"height":215,"view":{"fill":"#440154"},"data":{"name":"fine"},"mark":{"type":"rect","width":3.5,"height":3.5,"clip":true},
"encoding":{"x":{"field":"x","type":"quantitative","title":"Δx (pc)","scale":{"domain":[0,0.45],"nice":false},"axis":{"values":[0,0.1,0.2,0.3,0.4],"labelExpr":"datum.value==0?'0.0':format(datum.value+0.01,'.2f')","labelFlush":false,"titlePadding":3}},
"y":{"field":"y","type":"quantitative","title":"Δy (pc)","scale":{"domain":[0,0.45],"nice":false},"axis":{"values":[0,0.05,0.1,0.15,0.2,0.25,0.3,0.35,0.4,0.45],"labelExpr":"datum.value>0.44?'':(datum.value==0?'0.0':format(datum.value,'.2~f'))","labelOverlap":false,"titlePadding":8}},
"color":{"field":"c","type":"quantitative","scale":{"scheme":"viridis","domain":[0,0.921]},"legend":null}}},
{"width":11,"height":215,"data":{"values":[{"lo":0,"hi":0.921}]},"mark":{"type":"rect","color":{"x1":0,"y1":1,"x2":0,"y2":0,"gradient":"linear","stops":[{"offset":0,"color":"#440154"},{"offset":0.1,"color":"#482475"},{"offset":0.2,"color":"#414487"},{"offset":0.3,"color":"#355f8d"},{"offset":0.4,"color":"#2a788e"},{"offset":0.5,"color":"#21918c"},{"offset":0.6,"color":"#22a884"},{"offset":0.7,"color":"#44bf70"},{"offset":0.8,"color":"#7ad151"},{"offset":0.9,"color":"#bddf26"},{"offset":1,"color":"#fde725"}]}},
"encoding":{"y":{"field":"lo","type":"quantitative","title":"Relative abundance","scale":{"domain":[0,0.921],"nice":false},"axis":{"orient":"right","values":[0,0.2,0.4,0.6,0.8],"format":".1f","titleAngle":270,"titlePadding":13}},"y2":{"field":"hi"}}}
],"spacing":3,"bounds":"flush"}
]}
